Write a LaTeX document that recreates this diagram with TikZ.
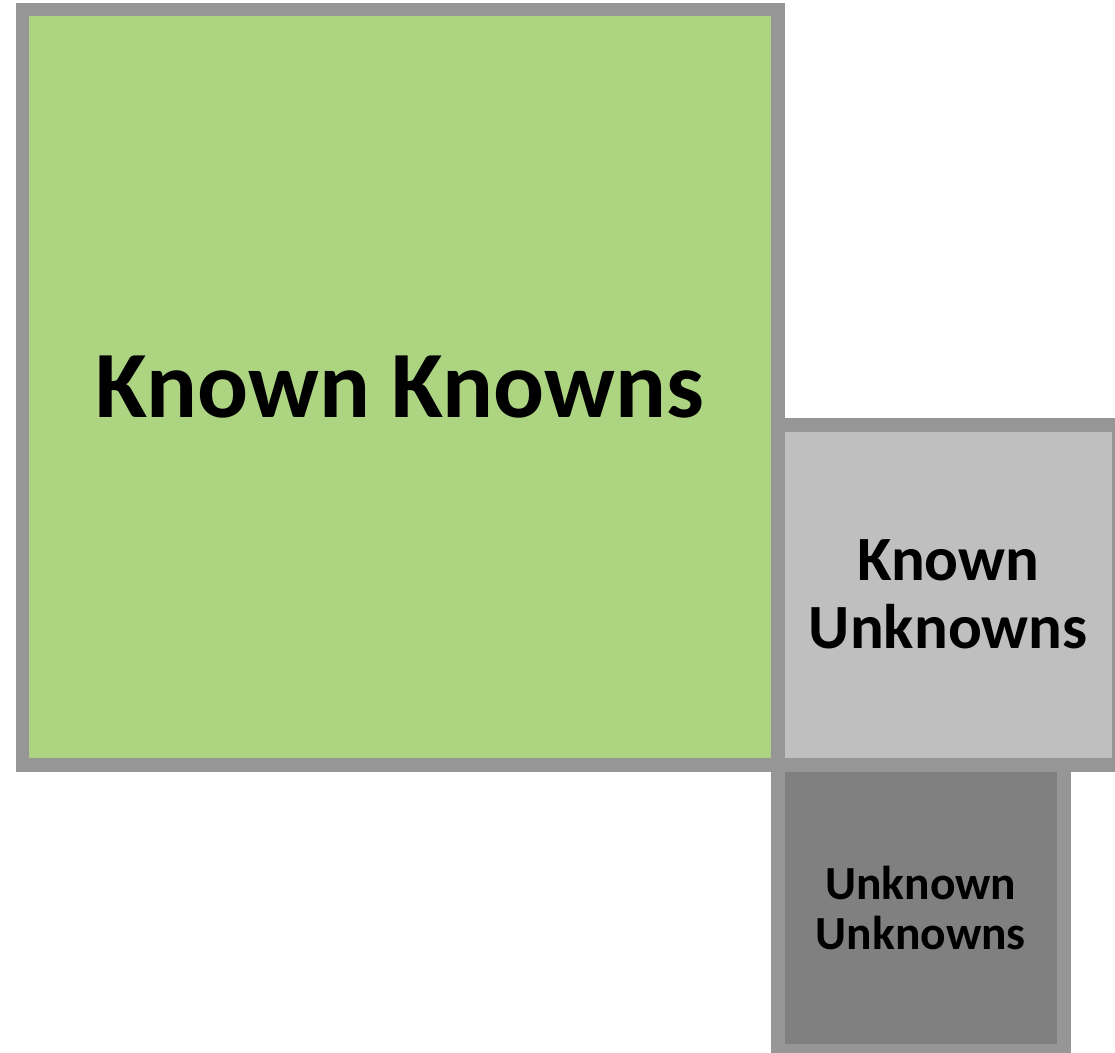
\documentclass[tikz,border=0pt]{standalone}
\usepackage{fontspec}
\setmainfont{Carlito}
\usepackage{xcolor}
\usetikzlibrary{positioning}
\definecolor{boxgray}{RGB}{150,150,150}
\definecolor{kkgreen}{RGB}{173,212,129}
\definecolor{kugray}{RGB}{191,191,191}
\definecolor{uugray}{RGB}{128,128,128}

\begin{document}
\begin{tikzpicture}[x=1pt,y=-1pt]

\tikzstyle{mybox} = [rectangle,draw=boxgray,line width=13.5pt,outer sep=0pt,
inner sep=0pt, align=center, font=\bfseries]

\useasboundingbox (0,0) rectangle (1115,1052);

\node[mybox, fill=kkgreen, minimum width=755.5pt, minimum height=755.5pt,
font=\bfseries\fontsize{95}{95}\selectfont] (kk) at (400,387) {Known Knowns};

\node[mybox, fill=kugray, minimum width=341pt, minimum height=340pt,
anchor=south west, font=\bfseries\fontsize{63}{68}\selectfont]
  (ku) at (kk.south east) {Known\\Unknowns};

\node[mybox, fill=uugray, minimum width=286pt, minimum height=286pt,
anchor=north west, font=\bfseries\fontsize{47.5}{50}\selectfont]
  (uu) at (kk.south east) {Unknown\\Unknowns};

\end{tikzpicture}
\end{document}
